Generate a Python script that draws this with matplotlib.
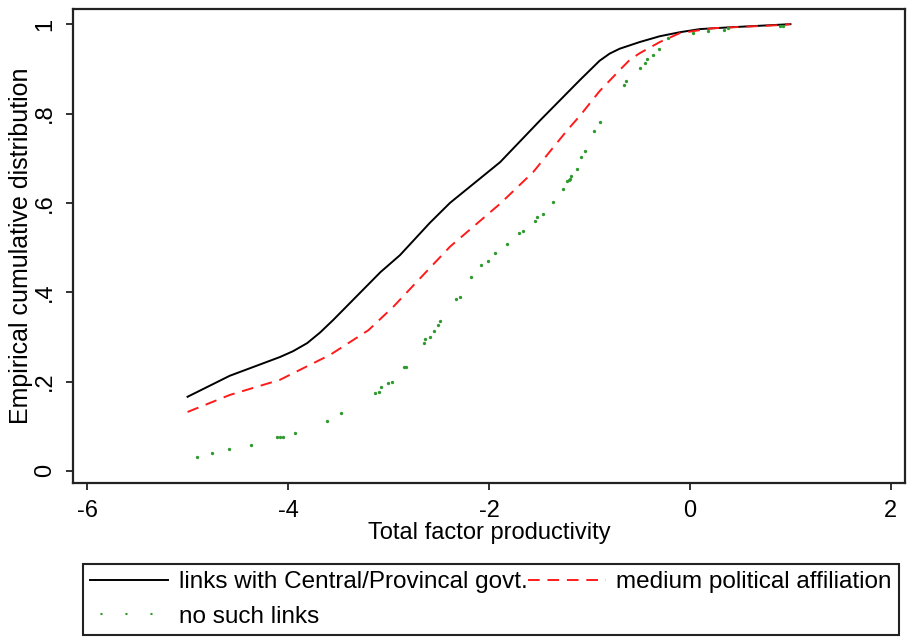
import matplotlib
matplotlib.use("Agg")
import matplotlib.pyplot as plt
from matplotlib.lines import Line2D

plt.rcParams['font.family'] = ['Liberation Sans', 'DejaVu Sans']

# links with Central/Provincal govt. (empirical cdf)
black_x = [-5.0, -4.58, -4.08, -3.95, -3.81, -3.68, -3.55, -3.08, -2.886, -2.59,
           -2.388, -1.89, -1.49, -1.095, -0.9, -0.8, -0.7, -0.5, -0.3, -0.1,
           0.1, 0.4, 1.0]
black_y = [0.166, 0.213, 0.255, 0.268, 0.286, 0.310, 0.338, 0.445, 0.483, 0.555,
           0.600, 0.691, 0.785, 0.875, 0.918, 0.934, 0.945, 0.960, 0.973, 0.982,
           0.989, 0.993, 1.0]

# medium political affiliation
red_x = [-5.0, -4.58, -4.08, -3.58, -3.2, -2.95, -2.59, -2.388, -1.89, -1.56,
         -1.22, -1.095, -0.9, -0.7, -0.6, -0.5, -0.3, -0.1, 0.23, 0.9, 1.0]
red_y = [0.132, 0.170, 0.204, 0.260, 0.315, 0.368, 0.454, 0.502, 0.598, 0.669,
         0.763, 0.795, 0.850, 0.897, 0.920, 0.935, 0.960, 0.980, 0.991, 0.998, 1.0]

# no such links (sparse, drawn as dots)
green_x = [-4.91, -4.76, -4.59, -4.37, -4.11, -4.08, -4.05, -3.93, -3.61, -3.47,
           -3.13, -3.09, -3.07, -3.01, -2.97, -2.85, -2.83, -2.65, -2.64, -2.59,
           -2.55, -2.51, -2.49, -2.33, -2.29, -2.18, -2.08, -2.01, -1.94, -1.82,
           -1.70, -1.66, -1.54, -1.52, -1.46, -1.36, -1.26, -1.22, -1.20, -1.19,
           -1.18, -1.12, -1.08, -1.04, -0.96, -0.90, -0.66, -0.64, -0.50, -0.445,
           -0.425, -0.365, -0.305, -0.22, 0.03, 0.18, 0.34, 0.375, 0.9, 0.93]
green_y = [0.031, 0.040, 0.049, 0.057, 0.075, 0.075, 0.075, 0.084, 0.111, 0.129,
           0.174, 0.177, 0.187, 0.196, 0.200, 0.232, 0.232, 0.286, 0.295, 0.299,
           0.3125, 0.326, 0.335, 0.384, 0.389, 0.433, 0.460, 0.469, 0.487, 0.509,
           0.532, 0.536, 0.559, 0.568, 0.576, 0.603, 0.630, 0.648, 0.652, 0.654,
           0.661, 0.675, 0.702, 0.715, 0.760, 0.782, 0.863, 0.872, 0.903, 0.913,
           0.922, 0.931, 0.944, 0.970, 0.980, 0.984, 0.988, 0.991, 0.995, 0.996]

labels = ["links with Central/Provincal govt.", "medium political affiliation",
          "no such links"]
x_ticks = [-6, -4, -2, 0, 2]
y_ticks = [0, 0.2, 0.4, 0.6, 0.8, 1.0]
y_tick_labels = ["0", ".2", ".4", ".6", ".8", "1"]

green = "#2e9a2e"

fig = plt.figure(figsize=(9.23, 6.41), dpi=100)
ax = fig.add_axes([0.0791, 0.2465, 0.9014, 0.7395])

l_black, = ax.plot(black_x, black_y, color="black", lw=1.4)
l_red, = ax.plot(red_x, red_y, color="#ff1a1a", lw=1.4, linestyle=(0, (6, 4)))
ax.plot(green_x, green_y, linestyle="none", marker="o", ms=2.4, mew=0, color=green)

ax.set_xlim(-6.14, 2.14)
ax.set_ylim(-0.027, 1.034)
ax.set_xticks(x_ticks)
ax.set_xticklabels([str(v) for v in x_ticks])
ax.set_yticks(y_ticks)
ax.set_yticklabels(y_tick_labels, rotation=90, va="center")

for s in ax.spines.values():
    s.set_linewidth(1.6)
    s.set_color("#222222")
ax.tick_params(length=5, width=1.3, labelsize=17, pad=7, color="#222222")

ax.set_xlabel("Total factor productivity", fontsize=17, labelpad=0)
ax.set_ylabel("Empirical cumulative distribution", fontsize=18, labelpad=1)

g_proxy = Line2D([], [], color=green, lw=1.5, linestyle=(7, (1, 11)))
leg = fig.legend([l_black, g_proxy, l_red], [labels[0], labels[2], labels[1]],
                 ncol=2, loc="upper left", bbox_to_anchor=(0.0899, 0.120),
                 fontsize=17.5, handlelength=3.2, handletextpad=0.45,
                 columnspacing=0.0, labelspacing=0.5, borderpad=0.3,
                 borderaxespad=0.0, fancybox=False, framealpha=1)
leg.get_frame().set_edgecolor("#222222")
leg.get_frame().set_linewidth(1.5)

fig.savefig("out.png", dpi=100)
